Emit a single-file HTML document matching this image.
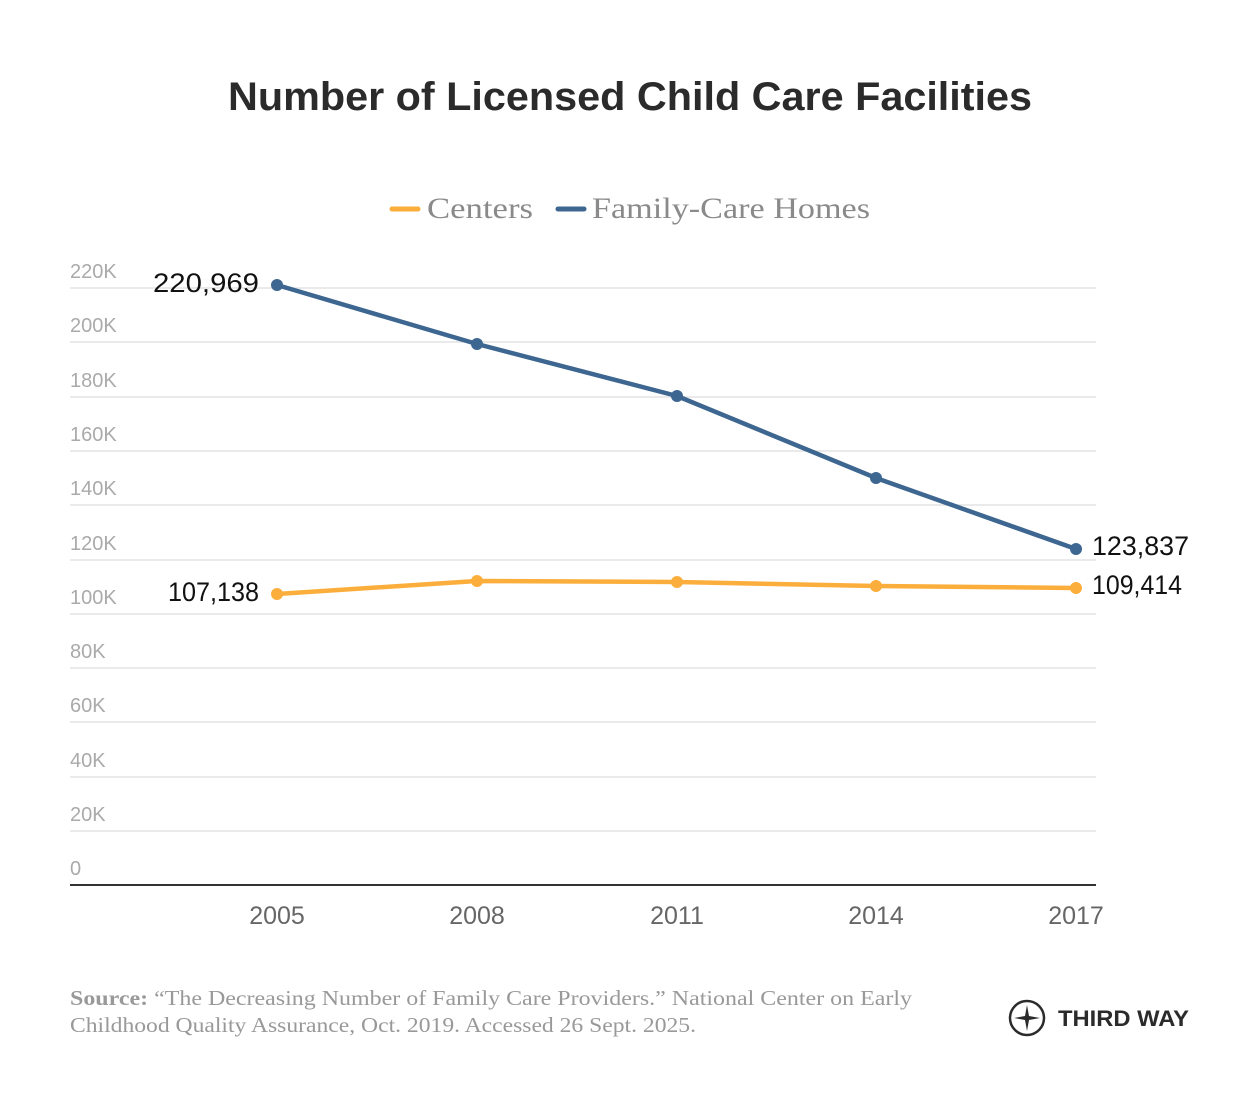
<!DOCTYPE html>
<html><head><style>
body{margin:0;background:#fff;}
</style></head><body>
<svg width="1260" height="1108" xmlns="http://www.w3.org/2000/svg" style="display:block">
<rect width="1260" height="1108" fill="#fff"/>
<text x="228" y="110" textLength="804" lengthAdjust="spacingAndGlyphs" font-family="Liberation Sans, sans-serif" font-weight="bold" font-size="40" fill="#2b2b2b">Number of Licensed Child Care Facilities</text>
<line x1="392" y1="209" x2="418" y2="209" stroke="#fbae3c" stroke-width="5" stroke-linecap="round"/>
<text x="427" y="218" textLength="106" lengthAdjust="spacingAndGlyphs" font-family="Liberation Serif, serif" font-size="30" fill="#8a8a8a">Centers</text>
<line x1="558" y1="209" x2="584" y2="209" stroke="#3d6690" stroke-width="5" stroke-linecap="round"/>
<text x="592" y="218" textLength="278" lengthAdjust="spacingAndGlyphs" font-family="Liberation Serif, serif" font-size="30" fill="#8a8a8a">Family-Care Homes</text>
<g stroke="#e3e3e3" stroke-width="1.5">
<line x1="70" y1="288" x2="1096" y2="288"/><line x1="70" y1="342" x2="1096" y2="342"/>
<line x1="70" y1="397" x2="1096" y2="397"/><line x1="70" y1="451" x2="1096" y2="451"/>
<line x1="70" y1="505" x2="1096" y2="505"/><line x1="70" y1="560" x2="1096" y2="560"/>
<line x1="70" y1="614" x2="1096" y2="614"/><line x1="70" y1="668" x2="1096" y2="668"/>
<line x1="70" y1="722" x2="1096" y2="722"/><line x1="70" y1="777" x2="1096" y2="777"/>
<line x1="70" y1="831" x2="1096" y2="831"/>
</g>
<line x1="70" y1="885" x2="1096" y2="885" stroke="#333" stroke-width="2"/>
<g font-family="Liberation Sans, sans-serif" font-size="20" fill="#aaa">
<text x="70" y="278">220K</text><text x="70" y="332">200K</text><text x="70" y="387">180K</text>
<text x="70" y="441">160K</text><text x="70" y="495">140K</text><text x="70" y="550">120K</text>
<text x="70" y="604">100K</text><text x="70" y="658">80K</text><text x="70" y="712">60K</text>
<text x="70" y="767">40K</text><text x="70" y="821">20K</text><text x="70" y="875">0</text>
</g>
<g font-family="Liberation Sans, sans-serif" font-size="25" fill="#666" text-anchor="middle">
<text x="277" y="924">2005</text><text x="477" y="924">2008</text><text x="677" y="924">2011</text><text x="876" y="924">2014</text><text x="1076" y="924">2017</text>
</g>
<polyline points="277,285 477,344 677,396 876,478 1076,549" fill="none" stroke="#3d6690" stroke-width="4.5" stroke-linejoin="round"/>
<polyline points="277,594 477,581 677,582 876,586 1076,588" fill="none" stroke="#fbae3c" stroke-width="4.5" stroke-linejoin="round"/>
<g fill="#3d6690"><circle cx="277" cy="285" r="6"/><circle cx="477" cy="344" r="6"/><circle cx="677" cy="396" r="6"/><circle cx="876" cy="478" r="6"/><circle cx="1076" cy="549" r="6"/></g>
<g fill="#fbae3c"><circle cx="277" cy="594" r="6"/><circle cx="477" cy="581" r="6"/><circle cx="677" cy="582" r="6"/><circle cx="876" cy="586" r="6"/><circle cx="1076" cy="588" r="6"/></g>
<g font-family="Liberation Sans, sans-serif" font-size="27" fill="#111">
<text x="153" y="292" textLength="106" lengthAdjust="spacingAndGlyphs">220,969</text>
<text x="168" y="601" textLength="91" lengthAdjust="spacingAndGlyphs">107,138</text>
<text x="1092" y="555" textLength="97" lengthAdjust="spacingAndGlyphs">123,837</text>
<text x="1092" y="594" textLength="90" lengthAdjust="spacingAndGlyphs">109,414</text>
</g>
<text x="70" y="1005" textLength="842" lengthAdjust="spacingAndGlyphs" font-family="Liberation Serif, serif" font-size="21" fill="#999"><tspan font-weight="bold">Source:</tspan> “The Decreasing Number of Family Care Providers.” National Center on Early</text>
<text x="70" y="1032" textLength="626" lengthAdjust="spacingAndGlyphs" font-family="Liberation Serif, serif" font-size="21" fill="#999">Childhood Quality Assurance, Oct. 2019. Accessed 26 Sept. 2025.</text>
<circle cx="1027" cy="1018" r="17" fill="none" stroke="#2b2b2b" stroke-width="2.5"/>
<path d="M1027 1005 L1029 1016 L1040 1018 L1029 1020 L1027 1031 L1025 1020 L1014 1018 L1025 1016 Z" fill="#2b2b2b"/>
<text x="1058" y="1026" textLength="131" lengthAdjust="spacingAndGlyphs" font-family="Liberation Sans, sans-serif" font-weight="bold" font-size="22" fill="#2b2b2b">THIRD WAY</text>
</svg>
</body></html>
